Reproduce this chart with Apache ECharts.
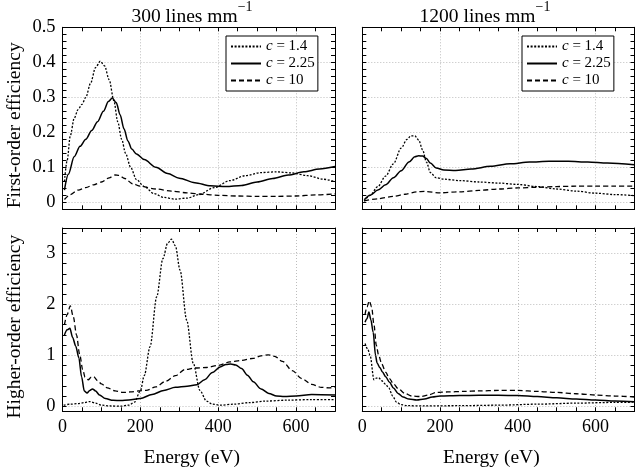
<!DOCTYPE html>
<html><head><meta charset="utf-8">
<script src="https://cdn.jsdelivr.net/npm/echarts@6/dist/echarts.min.js"></script>
<style>html,body{margin:0;padding:0;background:#fff}#c{width:640px;height:473px}</style>
</head><body><div id="c"></div><script>
// ---- labels ----
const seriesNames = ['c = 1.4', 'c = 2.25', 'c = 10'];
const panelTitles = ['300 lines mm', '1200 lines mm'];
const rowNames = ['First-order efficiency', 'Higher-order efficiency'];
const xName = 'Energy (eV)';
const xTickLabels = [0, 200, 400, 600];

// ---- data: [energy eV, efficiency] ----
// 300 lines/mm, first order
const tl14 = [[5,0.06],[12,0.12],[20,0.19],[30,0.24],[40,0.265],[50,0.28],[60,0.30],[72,0.34],[85,0.385],[97,0.403],[108,0.39],[120,0.35],[132,0.29],[142,0.23],[152,0.18],[162,0.14],[175,0.10],[190,0.065],[210,0.045],[235,0.025],[260,0.014],[290,0.009],[320,0.012],[350,0.022],[390,0.042],[430,0.062],[470,0.076],[510,0.085],[550,0.087],[590,0.084],[630,0.076],[670,0.066],[700,0.059]];
const tl225 = [[5,0.035],[15,0.08],[30,0.13],[45,0.16],[60,0.18],[75,0.205],[90,0.23],[105,0.26],[118,0.288],[128,0.298],[138,0.285],[148,0.25],[158,0.21],[168,0.175],[178,0.152],[190,0.138],[210,0.122],[240,0.1],[270,0.082],[300,0.069],[340,0.056],[380,0.047],[420,0.045],[460,0.048],[500,0.058],[540,0.068],[580,0.078],[620,0.087],[660,0.095],[700,0.102]];
const tl10 = [[5,0.008],[20,0.022],[40,0.035],[60,0.042],[80,0.05],[100,0.058],[120,0.07],[135,0.078],[145,0.077],[160,0.068],[180,0.053],[200,0.046],[240,0.038],[280,0.032],[320,0.027],[360,0.023],[400,0.02],[450,0.018],[500,0.017],[550,0.017],[600,0.018],[650,0.021],[700,0.024]];
// 1200 lines/mm, first order
const tr14 = [[5,0.003],[20,0.02],[40,0.045],[60,0.075],[80,0.11],[100,0.155],[115,0.18],[125,0.19],[135,0.19],[145,0.178],[155,0.15],[165,0.115],[175,0.085],[190,0.07],[210,0.066],[250,0.062],[300,0.058],[350,0.055],[400,0.051],[450,0.045],[500,0.038],[550,0.032],[600,0.026],[650,0.022],[700,0.019]];
const tr225 = [[5,0.007],[20,0.02],[40,0.035],[60,0.05],[80,0.07],[100,0.09],[120,0.115],[135,0.13],[145,0.133],[155,0.132],[165,0.125],[175,0.112],[190,0.098],[210,0.092],[240,0.091],[280,0.095],[330,0.103],[380,0.11],[430,0.115],[480,0.117],[530,0.117],[580,0.115],[630,0.112],[700,0.107]];
const tr10 = [[5,0.004],[40,0.01],[80,0.017],[110,0.023],[140,0.03],[160,0.031],[200,0.027],[250,0.03],[300,0.034],[350,0.038],[400,0.041],[450,0.043],[500,0.045],[550,0.046],[600,0.046],[650,0.046],[700,0.046]];
// 300 lines/mm, higher orders
const bl14 = [[3,0.02],[20,0.04],[40,0.05],[55,0.07],[70,0.09],[85,0.06],[100,0.02],[120,0.005],[150,0.0],[170,0.02],[185,0.08],[200,0.3],[210,0.6],[225,1.17],[242,2.15],[258,2.9],[270,3.2],[280,3.28],[290,3.15],[302,2.67],[319,1.69],[336,0.84],[353,0.31],[370,0.1],[385,0.04],[405,0.02],[440,0.04],[480,0.07],[520,0.1],[580,0.12],[640,0.13],[700,0.13]];
const bl225 = [[5,1.4],[12,1.5],[19,1.53],[26,1.35],[34,1.18],[42,0.95],[49,0.58],[56,0.3],[63,0.26],[70,0.31],[77,0.34],[85,0.3],[95,0.22],[110,0.15],[130,0.115],[150,0.11],[170,0.12],[200,0.15],[230,0.23],[260,0.31],[290,0.37],[320,0.39],[345,0.42],[365,0.52],[385,0.66],[405,0.77],[420,0.82],[432,0.83],[445,0.81],[460,0.74],[475,0.61],[490,0.48],[510,0.34],[530,0.25],[550,0.2],[570,0.19],[600,0.2],[640,0.23],[700,0.22]];
const bl10 = [[5,1.6],[12,1.8],[20,1.97],[28,1.75],[36,1.4],[44,1.02],[52,0.72],[58,0.57],[66,0.52],[74,0.57],[80,0.58],[90,0.5],[100,0.44],[115,0.36],[135,0.3],[155,0.27],[175,0.28],[195,0.3],[215,0.31],[240,0.38],[265,0.49],[290,0.6],[315,0.72],[340,0.75],[370,0.76],[400,0.8],[430,0.87],[460,0.9],[490,0.94],[510,0.99],[528,1.01],[545,0.98],[565,0.88],[590,0.7],[615,0.54],[640,0.43],[665,0.37],[685,0.36],[700,0.37]];
// 1200 lines/mm, higher orders
const br14 = [[7,1.23],[14,1.12],[20,1.0],[30,0.52],[36,0.55],[42,0.56],[50,0.5],[60,0.43],[68,0.36],[78,0.2],[88,0.08],[100,0.03],[115,0.01],[160,0.005],[250,0.01],[350,0.02],[450,0.04],[550,0.06],[650,0.075],[700,0.08]];
const br225 = [[7,1.65],[12,1.72],[17,1.85],[22,1.7],[28,1.45],[34,1.0],[38,0.85],[45,0.76],[52,0.67],[60,0.58],[70,0.47],[80,0.36],[92,0.25],[105,0.18],[120,0.14],[140,0.12],[160,0.14],[180,0.18],[200,0.2],[250,0.21],[300,0.215],[350,0.215],[400,0.21],[450,0.19],[500,0.165],[550,0.14],[600,0.12],[650,0.1],[700,0.09]];
const br10 = [[7,1.8],[12,1.95],[18,2.07],[24,1.95],[30,1.6],[36,1.2],[42,1.0],[50,0.83],[60,0.67],[70,0.54],[80,0.44],[93,0.34],[110,0.25],[127,0.2],[150,0.19],[170,0.22],[190,0.27],[220,0.28],[260,0.29],[300,0.3],[350,0.31],[400,0.31],[450,0.29],[500,0.27],[550,0.245],[600,0.22],[650,0.2],[700,0.18]];

const panels = [[tl14, tl225, tl10], [tr14, tr225, tr10], [bl14, bl225, bl10], [br14, br225, br10]];

// ---- styling ----
const FONT = 'Liberation Serif';
const lineStyles = [
  { color: '#000', width: 1.3, type: [2, 1.6] },
  { color: '#000', width: 1.5, type: 'solid' },
  { color: '#000', width: 1.3, type: [5, 3] }
];
const grids = [
  { left: 62.5, top: 27.3, width: 272.5, height: 182 },
  { left: 362.3, top: 27.3, width: 272.2, height: 182 },
  { left: 62.5, top: 228, width: 272.5, height: 183.3 },
  { left: 362.3, top: 228, width: 272.2, height: 183.3 }
];
const yRange = [{ min: -0.02, max: 0.5, splitNumber: 5, minor: 5, step: 0.1 },
                { min: -0.1, max: 3.5, splitNumber: 4, minor: 5, step: 1 }];

const axisLine = { show: true, onZero: false, lineStyle: { color: '#000', width: 1 } };
const tick = { show: true, inside: true, length: 4, lineStyle: { color: '#000', width: 1 } };
const gridLine = { show: true, lineStyle: { color: '#bdbdbd', width: 1, type: [1, 2] } };

const xAxes = [], yAxes = [], series = [];
for (let g = 0; g < 4; g++) {
  const row = g < 2 ? 0 : 1, col = g % 2;
  const yr = yRange[row];
  const xMain = {
    type: 'value', gridIndex: g, min: 0, max: 700, interval: 200, position: 'bottom',
    axisLine, axisTick: tick, minorTick: Object.assign({}, tick, { splitNumber: 4 }),
    splitLine: gridLine,
    axisLabel: {
      show: row === 1, margin: 7, fontFamily: FONT, fontSize: 18, color: '#000',
      formatter: v => xTickLabels.indexOf(v) >= 0 ? String(v) : ''
    }
  };
  if (row === 1) {
    Object.assign(xMain, {
      name: xName, nameLocation: 'middle', nameGap: 37,
      nameTextStyle: { fontFamily: FONT, fontSize: 19.5, color: '#000', padding: [0, 14, 0, 0] }
    });
  }
  xAxes.push(xMain);
  xAxes.push({
    type: 'value', gridIndex: g, min: 0, max: 700, interval: 200, position: 'top',
    axisLine, axisTick: tick, minorTick: Object.assign({}, tick, { splitNumber: 4 }),
    splitLine: { show: false }, axisLabel: { show: false }
  });
  const yMain = {
    type: 'value', gridIndex: g, min: yr.min, max: yr.max, splitNumber: yr.splitNumber, position: 'left',
    axisLine, axisTick: tick, minorTick: Object.assign({}, tick, { splitNumber: yr.minor }),
    splitLine: gridLine,
    axisLabel: {
      show: col === 0, margin: 7, fontFamily: FONT, fontSize: 18.5, color: '#000',
      formatter: v => {
        const k = v / yr.step;
        if (v < -1e-9 || Math.abs(k - Math.round(k)) > 1e-6) return '';
        return String(+(Math.round(k) * yr.step).toFixed(1));
      }
    }
  };
  if (col === 0) {
    Object.assign(yMain, {
      name: rowNames[row], nameLocation: 'middle', nameGap: 38,
      nameTextStyle: { fontFamily: FONT, fontSize: 19.5, color: '#000', padding: [0, 14, 0, 0] }
    });
  }
  yAxes.push(yMain);
  yAxes.push({
    type: 'value', gridIndex: g, min: yr.min, max: yr.max, splitNumber: yr.splitNumber, position: 'right',
    axisLine, axisTick: tick, minorTick: Object.assign({}, tick, { splitNumber: yr.minor }),
    splitLine: { show: false }, axisLabel: { show: false }
  });
  panels[g].forEach((d, s) => {
    series.push({
      type: 'line', name: seriesNames[s], xAxisIndex: 2 * g, yAxisIndex: 2 * g,
      data: d, symbol: 'none', smooth: 0.3, smoothMonotone: 'x', clip: true,
      lineStyle: lineStyles[s], itemStyle: { color: '#000' }, silent: true, animation: false
    });
  });
}

const legendBase = {
  orient: 'vertical', top: 36, data: seriesNames,
  itemWidth: 30, itemHeight: 12, itemGap: 2, padding: [3, 3, 3, 4],
  borderColor: '#000', borderWidth: 1, backgroundColor: '#fff', selectedMode: false, z: 10,
  itemStyle: { opacity: 0, color: 'rgba(0,0,0,0)', borderWidth: 0 },
  formatter: n => '{i|c}' + n.slice(1),
  textStyle: { fontFamily: FONT, fontSize: 15, color: '#000',
    rich: { i: { fontFamily: FONT, fontSize: 15, fontStyle: 'italic', color: '#000' } } }
};

const titleStyle = {
  fontFamily: FONT, fontSize: 19.5, fontWeight: 'normal', color: '#000',
  rich: {
    m: { fontFamily: FONT, fontSize: 19.5, color: '#000', padding: [7, 0, 0, 0], verticalAlign: 'bottom' },
    sup: { fontFamily: FONT, fontSize: 14, color: '#000', verticalAlign: 'top' }
  }
};

const chart = echarts.init(document.getElementById('c'), null, { renderer: 'canvas' });
chart.setOption({
  animation: false,
  backgroundColor: '#fff',
  title: [
    { text: '{m|' + panelTitles[0] + '}{sup|\u22121}', left: 192, top: 0, textAlign: 'center', padding: 0, textStyle: titleStyle },
    { text: '{m|' + panelTitles[1] + '}{sup|\u22121}', left: 485, top: 0, textAlign: 'center', padding: 0, textStyle: titleStyle }
  ],
  legend: [Object.assign({ left: 226 }, legendBase), Object.assign({ left: 522 }, legendBase)],
  grid: grids,
  xAxis: xAxes,
  yAxis: yAxes,
  series
});
</script></body></html>
